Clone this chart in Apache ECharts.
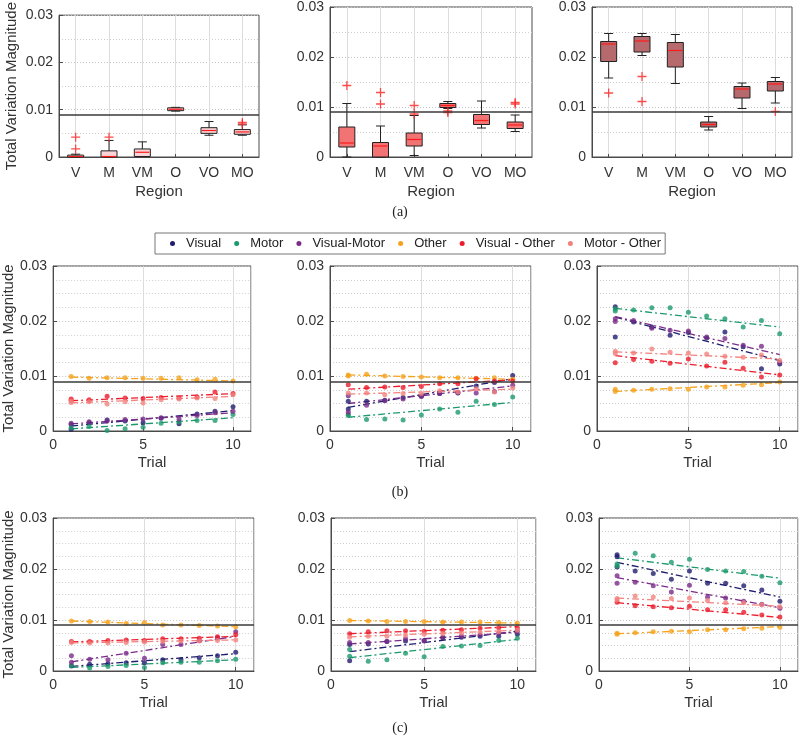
<!DOCTYPE html>
<html><head><meta charset="utf-8">
<script src="https://cdn.jsdelivr.net/npm/echarts@6/dist/echarts.min.js"></script>
<style>html,body{margin:0;padding:0;background:#fff}#c{width:800px;height:743px}</style>
</head><body><div id="c"></div>
<script>
// ---------- DATA ----------
const regions = ['V', 'M', 'VM', 'O', 'VO', 'MO'];
const trials = [1, 2, 3, 4, 5, 6, 7, 8, 9, 10];
const seriesNames = ['Visual', 'Motor', 'Visual-Motor', 'Other', 'Visual - Other', 'Motor - Other'];
const threshold = 0.009;
const yMax = 0.03;
const yStep = 0.01;
const xMaxTrial = 11;
const xStepTrial = 5;

// box stats per region: [min, q1, median, q3, max]
const boxA1 = [
  [0, 0, 0.0001, 0.0004, 0.0006],
  [0, 0, 0.0001, 0.0013, 0.0035],
  [0.0001, 0.0001, 0.001, 0.0017, 0.0032],
  [0.0097, 0.0098, 0.0101, 0.0104, 0.0105],
  [0.0046, 0.005, 0.0056, 0.0062, 0.0075],
  [0.0046, 0.0048, 0.0053, 0.0058, 0.0068]
];
const outA1 = [[0, 0.0042], [0, 0.0017], [1, 0.0042], [5, 0.0073], [5, 0.0070]];
const boxA2 = [
  [0, 0.002, 0.0028, 0.006, 0.0107],
  [0, 0, 0.0022, 0.0029, 0.0062],
  [0.0003, 0.0022, 0.0035, 0.0048, 0.0083],
  [0.0097, 0.0099, 0.0103, 0.0107, 0.0111],
  [0.0058, 0.0065, 0.0073, 0.0085, 0.0112],
  [0.0051, 0.0057, 0.0064, 0.007, 0.0084]
];
const outA2 = [[0, 0.0143], [1, 0.0129], [1, 0.0106], [2, 0.0103], [2, 0.0086], [3, 0.0092], [3, 0.0089], [5, 0.0109], [5, 0.0106]];
const boxA3 = [
  [0.0158, 0.0191, 0.0226, 0.0231, 0.0247],
  [0.0203, 0.021, 0.0232, 0.0241, 0.0247],
  [0.0147, 0.018, 0.0213, 0.0229, 0.0245],
  [0.0054, 0.006, 0.0065, 0.007, 0.0081],
  [0.0097, 0.0118, 0.0136, 0.0141, 0.0148],
  [0.0108, 0.0132, 0.0146, 0.0151, 0.0159]
];
const outA3 = [[0, 0.0128], [1, 0.0161], [1, 0.0111], [5, 0.0091]];

// trial values per series (order of seriesNames), values at trials 1..10
const ptsB1 = [
  [0.0003, 0.0015, 0.002, 0.0018, 0.0015, 0.0023, 0.0013, 0.0031, 0.0036, 0.0044],
  [0.0006, 0.0008, 0.0001, 0.0004, 0.0007, 0.0014, 0.0017, 0.0019, 0.0019, 0.003],
  [0.0014, 0.0017, 0.0018, 0.0021, 0.0022, 0.0024, 0.0022, 0.0028, 0.0033, 0.0036],
  [0.0099, 0.0096, 0.0097, 0.0097, 0.0096, 0.0096, 0.0097, 0.0093, 0.0094, 0.0091],
  [0.0056, 0.0057, 0.0063, 0.006, 0.0059, 0.0061, 0.006, 0.0062, 0.0071, 0.0068],
  [0.0052, 0.0053, 0.0049, 0.0053, 0.0051, 0.0057, 0.0058, 0.006, 0.0059, 0.0066]
];
const extraB1 = [[0, 1, 0.0012], [4, 1, 0.0058], [5, 1, 0.0055]];
const fitB1 = [[0.0009, 0.0037], [0.0004, 0.0024], [0.0013, 0.0033], [0.0098, 0.0091], [0.0055, 0.0068], [0.0051, 0.0063]];

const ptsB2 = [
  [0.0054, 0.0054, 0.0056, 0.0061, 0.0063, 0.0068, 0.0069, 0.0082, 0.0088, 0.0101],
  [0.003, 0.0021, 0.0022, 0.002, 0.0029, 0.004, 0.0034, 0.0054, 0.0048, 0.0062],
  [0.0064, 0.0047, 0.0055, 0.0058, 0.0063, 0.0068, 0.007, 0.0069, 0.0072, 0.0083],
  [0.0102, 0.0103, 0.01, 0.0099, 0.0098, 0.0097, 0.0097, 0.0096, 0.0097, 0.0094],
  [0.0084, 0.0079, 0.008, 0.0079, 0.0081, 0.0086, 0.0086, 0.0095, 0.0091, 0.0091],
  [0.0069, 0.0069, 0.0066, 0.0068, 0.0068, 0.0073, 0.0071, 0.0077, 0.0071, 0.0078]
];
const extraB2 = [[0, 1, 0.004], [1, 1, 0.0028], [3, 1, 0.01], [2, 1, 0.0034]];
const fitB2 = [[0.0043, 0.0095], [0.0025, 0.0052], [0.005, 0.0082], [0.0102, 0.0094], [0.0076, 0.0093], [0.0067, 0.0076]];

const ptsB3 = [
  [0.0226, 0.0198, 0.0189, 0.0174, 0.0179, 0.0169, 0.018, 0.0153, 0.0113, 0.0122],
  [0.0222, 0.022, 0.0224, 0.0224, 0.0216, 0.0209, 0.0204, 0.0189, 0.0201, 0.0177],
  [0.0199, 0.0201, 0.0187, 0.0183, 0.0182, 0.0171, 0.0168, 0.0156, 0.0154, 0.0125],
  [0.0072, 0.0074, 0.0076, 0.0077, 0.0076, 0.008, 0.008, 0.0083, 0.0084, 0.0089],
  [0.0124, 0.013, 0.0127, 0.0123, 0.0131, 0.0118, 0.0125, 0.0114, 0.0098, 0.0102],
  [0.0145, 0.0142, 0.0149, 0.0143, 0.0142, 0.014, 0.0136, 0.0134, 0.0138, 0.0128]
];
const extraB3 = [[0, 1, 0.0171], [1, 1, 0.0218], [2, 1, 0.0204], [3, 1, 0.0076], [5, 1, 0.0141]];
const fitB3 = [[0.0207, 0.0128], [0.0223, 0.0189], [0.0208, 0.0139], [0.0072, 0.0088], [0.0137, 0.0102], [0.0144, 0.0131]];

const ptsC1 = [
  [0.001, 0.0013, 0.0014, 0.0016, 0.0016, 0.0022, 0.0022, 0.0026, 0.003, 0.0037],
  [0.0011, 0.0006, 0.0009, 0.0011, 0.0007, 0.0016, 0.0017, 0.0017, 0.002, 0.0023],
  [0.003, 0.0023, 0.0022, 0.0035, 0.0025, 0.0052, 0.0052, 0.006, 0.0065, 0.0077],
  [0.0098, 0.0097, 0.0096, 0.0093, 0.0095, 0.009, 0.009, 0.0089, 0.0088, 0.0087],
  [0.0058, 0.0058, 0.006, 0.0061, 0.006, 0.0063, 0.0063, 0.0064, 0.0067, 0.0071],
  [0.0056, 0.0055, 0.0055, 0.0056, 0.0057, 0.0058, 0.0059, 0.0059, 0.006, 0.0061]
];
const extraC1 = [[2, 1, 0.0017]];
const fitC1 = [[0.0009, 0.0034], [0.0007, 0.0022], [0.0018, 0.0068], [0.0098, 0.0087], [0.0057, 0.0068], [0.0055, 0.0061]];

const ptsC2 = [
  [0.0052, 0.0053, 0.0058, 0.0059, 0.006, 0.0065, 0.0066, 0.0068, 0.0068, 0.0072],
  [0.0029, 0.0019, 0.0022, 0.0035, 0.0028, 0.0048, 0.0049, 0.005, 0.006, 0.0064],
  [0.0056, 0.0056, 0.0058, 0.0063, 0.0059, 0.0066, 0.0068, 0.0071, 0.0074, 0.0078],
  [0.0099, 0.0098, 0.0097, 0.0097, 0.0097, 0.0096, 0.0096, 0.0096, 0.0095, 0.0094],
  [0.0073, 0.0077, 0.0079, 0.0079, 0.0078, 0.008, 0.0081, 0.0084, 0.0085, 0.0085],
  [0.0066, 0.0068, 0.0068, 0.007, 0.0072, 0.0073, 0.0074, 0.0076, 0.0077, 0.008]
];
const extraC2 = [[0, 1, 0.002], [1, 1, 0.0042]];
const fitC2 = [[0.0038, 0.0078], [0.0026, 0.0062], [0.0053, 0.0076], [0.0099, 0.0094], [0.0073, 0.0087], [0.0067, 0.008]];

const ptsC3 = [
  [0.0228, 0.0196, 0.0191, 0.018, 0.0196, 0.0172, 0.0172, 0.0167, 0.0159, 0.0137],
  [0.021, 0.0231, 0.0226, 0.0213, 0.0219, 0.0199, 0.0196, 0.0195, 0.0186, 0.0173],
  [0.0187, 0.0174, 0.0167, 0.0155, 0.0168, 0.0145, 0.0143, 0.0137, 0.0131, 0.0123],
  [0.0074, 0.0075, 0.0077, 0.0078, 0.0077, 0.0081, 0.0081, 0.0083, 0.0084, 0.0086],
  [0.0135, 0.0128, 0.0126, 0.0124, 0.0127, 0.012, 0.012, 0.0115, 0.011, 0.0106],
  [0.0142, 0.0147, 0.0145, 0.0142, 0.0143, 0.0138, 0.0134, 0.0134, 0.013, 0.0126]
];
const extraC3 = [[0, 1, 0.0204], [0, 1, 0.0224], [1, 1, 0.0206], [2, 1, 0.0172], [3, 1, 0.0072], [5, 1, 0.0139]];
const fitC3 = [[0.0213, 0.0145], [0.0222, 0.0182], [0.0183, 0.0124], [0.0073, 0.0087], [0.0134, 0.0105], [0.0143, 0.0127]];

// ---------- STYLE ----------
const FONT = '"Liberation Sans", Arial, Helvetica, sans-serif';
const SERIF = '"Liberation Serif", "Times New Roman", serif';
const colors = ['#1f1d6e', '#1c9a6c', '#7b2c89', '#f6a21c', '#ec1c2c', '#f2827e'];
const boxFills = ['#f9d3d6', '#f17373', '#b76a6d'];
const TXT = '#333';
const FRAME = '#4a4a4a';

const grids = [
  {left: 59, top: 5, width: 200, height: 152},
  {left: 330, top: 5, width: 202, height: 152},
  {left: 592, top: 5, width: 200, height: 152},
  {left: 50, top: 266, width: 201, height: 165},
  {left: 330, top: 266, width: 201, height: 165},
  {left: 597, top: 266, width: 201, height: 165},
  {left: 50, top: 518, width: 204, height: 153},
  {left: 331, top: 518, width: 205, height: 153},
  {left: 599, top: 518, width: 199, height: 153}
].map(g => Object.assign({show: true, borderColor: FRAME, borderWidth: 1, backgroundColor: '#fff', containLabel: false}, g));

const xAxes = [], yAxes = [], series = [];
const yName = 'Total Variation Magnitude';

function yAxisFor(g, minorSplit, showName, nameGap) {
  return {
    type: 'value', gridIndex: g, min: 0, max: yMax, interval: yStep,
    name: showName ? yName : '', nameLocation: 'middle', nameGap: nameGap,
    nameTextStyle: {fontFamily: FONT, fontSize: 15, color: TXT},
    axisLine: {show: true, lineStyle: {color: FRAME}},
    axisTick: {show: true, inside: true, length: 4, lineStyle: {color: FRAME}},
    axisLabel: {fontFamily: FONT, fontSize: 14, color: TXT, margin: 6},
    splitLine: {show: true, lineStyle: {color: '#c4c4c4', type: [1, 2], width: 1}},
    minorTick: {show: false, splitNumber: minorSplit},
    minorSplitLine: {show: true, lineStyle: {color: '#cfcfcf', type: [1, 2], width: 1}}
  };
}

function renderBox(fill) {
  return function (params, api) {
    const i = api.value(0);
    const lo = api.coord([i, api.value(1)]);
    const q1 = api.coord([i, api.value(2)]);
    const md = api.coord([i, api.value(3)]);
    const q3 = api.coord([i, api.value(4)]);
    const hi = api.coord([i, api.value(5)]);
    const bw = 16, cw = 9, x = q1[0];
    const blk = {stroke: '#222', lineWidth: 1};
    return {
      type: 'group',
      children: [
        {type: 'line', shape: {x1: x, y1: hi[1], x2: x, y2: q3[1]}, style: blk},
        {type: 'line', shape: {x1: x, y1: q1[1], x2: x, y2: lo[1]}, style: blk},
        {type: 'line', shape: {x1: x - cw / 2, y1: hi[1], x2: x + cw / 2, y2: hi[1]}, style: blk},
        {type: 'line', shape: {x1: x - cw / 2, y1: lo[1], x2: x + cw / 2, y2: lo[1]}, style: blk},
        {type: 'rect', shape: {x: x - bw / 2, y: q3[1], width: bw, height: Math.max(1, q1[1] - q3[1])}, style: {fill: fill, stroke: '#222', lineWidth: 1}},
        {type: 'line', shape: {x1: x - bw / 2 + 1, y1: md[1], x2: x + bw / 2 - 1, y2: md[1]}, style: {stroke: '#ff1a1a', lineWidth: 1.2}}
      ]
    };
  };
}

function thresholdSeries(g) {
  return {
    type: 'line', xAxisIndex: g, yAxisIndex: g, data: [], silent: true, z: 5,
    markLine: {silent: true, symbol: 'none', precision: 6, label: {show: false},
      lineStyle: {color: '#3a3a3a', width: 1.5, type: 'solid'},
      data: [{yAxis: threshold}]}
  };
}

const PLUS = 'path://M4.3,0H5.7V4.3H10V5.7H5.7V10H4.3V5.7H0V4.3H4.3Z';

// Row (a): box plots
[[boxA1, outA1], [boxA2, outA2], [boxA3, outA3]].forEach(([box, out], k) => {
  const g = k;
  xAxes.push({
    type: 'category', gridIndex: g, data: regions, boundaryGap: true,
    name: 'Region', nameLocation: 'middle', nameGap: 27,
    nameTextStyle: {fontFamily: FONT, fontSize: 15, color: TXT},
    axisLine: {show: true, lineStyle: {color: FRAME}},
    axisTick: {show: true, inside: true, alignWithLabel: true, length: 3, lineStyle: {color: FRAME}},
    axisLabel: {fontFamily: FONT, fontSize: 14, color: TXT, margin: 9},
    splitLine: {show: true, alignWithLabel: true, lineStyle: {color: '#dcdcdc', width: 1}}
  });
  yAxes.push(yAxisFor(g, 2, k === 0, 40));
  series.push({
    type: 'custom', xAxisIndex: g, yAxisIndex: g, renderItem: renderBox(boxFills[k]),
    encode: {x: 0, y: [1, 2, 3, 4, 5]},
    data: box.map((b, i) => [i].concat(b)), z: 3
  });
  series.push({
    type: 'scatter', xAxisIndex: g, yAxisIndex: g, symbol: PLUS, symbolSize: 9,
    itemStyle: {color: '#ff1f1f'}, data: out, z: 4
  });
  series.push(thresholdSeries(g));
});

// Rows (b), (c)
const panels = [
  [ptsB1, extraB1, fitB1], [ptsB2, extraB2, fitB2], [ptsB3, extraB3, fitB3],
  [ptsC1, extraC1, fitC1], [ptsC2, extraC2, fitC2], [ptsC3, extraC3, fitC3]
];
panels.forEach(([pts, extra, fit], k) => {
  const g = k + 3;
  xAxes.push({
    type: 'value', gridIndex: g, min: 0, max: xMaxTrial, interval: xStepTrial,
    name: 'Trial', nameLocation: 'middle', nameGap: 24,
    nameTextStyle: {fontFamily: FONT, fontSize: 15, color: TXT},
    axisLine: {show: true, lineStyle: {color: FRAME}},
    axisTick: {show: true, inside: true, length: 4, lineStyle: {color: FRAME}},
    axisLabel: {fontFamily: FONT, fontSize: 14, color: TXT, margin: 7, showMaxLabel: false},
    splitLine: {show: true, lineStyle: {color: '#dcdcdc', width: 1}}
  });
  yAxes.push(yAxisFor(g, 4, k === 0 || k === 3, 35));
  pts.forEach((vals, s) => {
    series.push({
      type: 'line', name: seriesNames[s], xAxisIndex: g, yAxisIndex: g,
      data: [[trials[0], fit[s][0]], [trials[trials.length - 1], fit[s][1]]],
      symbol: 'none', silent: true, z: 2,
      lineStyle: {color: colors[s], width: 1.3, type: [7, 3, 2, 3]},
      itemStyle: {color: colors[s]}
    });
  });
  pts.forEach((vals, s) => {
    const data = vals.map((v, i) => [trials[i], v]);
    extra.filter(e => e[0] === s).forEach(e => data.push([e[1], e[2]]));
    series.push({
      type: 'scatter', name: seriesNames[s], xAxisIndex: g, yAxisIndex: g,
      data: data, symbol: 'circle', symbolSize: 5, z: 3,
      itemStyle: {color: colors[s]}
    });
  });
  series.push(thresholdSeries(g));
});

const option = {
  animation: false,
  backgroundColor: '#fff',
  color: colors,
  grid: grids,
  xAxis: xAxes,
  yAxis: yAxes,
  series: series,
  legend: {
    data: seriesNames.map(n => ({name: n, icon: 'circle', itemStyle: {color: colors[seriesNames.indexOf(n)]}})),
    left: 155, top: 233,
    itemWidth: 5, itemHeight: 5, itemGap: 13,
    padding: [4, 4, 4, 15],
    borderColor: '#777', borderWidth: 1, backgroundColor: '#fff',
    textStyle: {fontFamily: FONT, fontSize: 13, color: '#222', padding: [0, 0, 0, 6]},
    selectedMode: false
  },
  graphic: [
    {type: 'text', x: 400, y: 212, style: {text: '(a)', font: '14px ' + SERIF, fill: '#222', textAlign: 'center', textVerticalAlign: 'middle'}},
    {type: 'text', x: 400, y: 492, style: {text: '(b)', font: '14px ' + SERIF, fill: '#222', textAlign: 'center', textVerticalAlign: 'middle'}},
    {type: 'text', x: 400, y: 728, style: {text: '(c)', font: '14px ' + SERIF, fill: '#222', textAlign: 'center', textVerticalAlign: 'middle'}}
  ]
};

const chart = echarts.init(document.getElementById('c'), null, {renderer: 'canvas'});
chart.setOption(option);
</script>
</body></html>
